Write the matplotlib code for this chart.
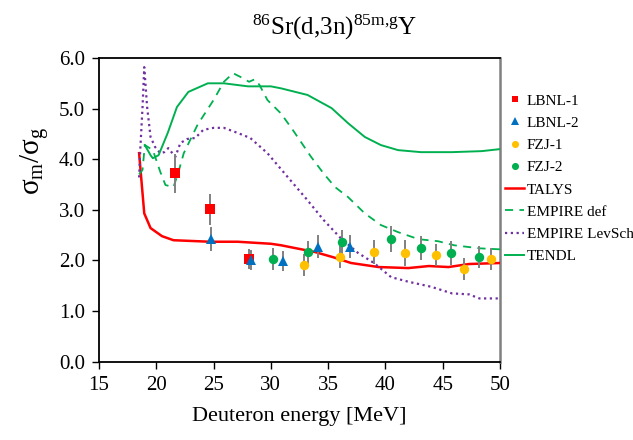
import matplotlib
matplotlib.use("Agg")
import matplotlib.pyplot as plt

plt.rcParams['font.family'] = ['Liberation Serif', 'DejaVu Serif']
plt.rcParams['mathtext.fontset'] = 'custom'
plt.rcParams['mathtext.rm'] = 'Liberation Serif'
plt.rcParams['mathtext.it'] = 'Liberation Serif:italic'

# Experimental data
lbnl1_x = [21.67, 24.65, 28.07]
lbnl1_y = [3.72, 3.01, 2.03]
lbnl1_e = [0.38, 0.30, 0.20]

lbnl2_x = [24.8, 28.25, 31.1, 34.1, 36.9]
lbnl2_y = [2.42, 2.01, 1.99, 2.27, 2.27]
lbnl2_e = [0.24, 0.20, 0.20, 0.23, 0.23]

fzj1_x = [32.9, 36.05, 39.0, 41.75, 44.4, 46.9, 49.2]
fzj1_y = [1.91, 2.07, 2.17, 2.15, 2.11, 1.83, 2.03]
fzj1_e = [0.22, 0.22, 0.24, 0.25, 0.22, 0.21, 0.22]

fzj2_x = [30.2, 33.2, 36.2, 40.5, 43.1, 45.7, 48.2]
fzj2_y = [2.03, 2.16, 2.36, 2.43, 2.25, 2.15, 2.07]
fzj2_e = [0.22, 0.23, 0.24, 0.26, 0.24, 0.23, 0.22]

# Model curves
talys_x = [18.5, 18.95, 19.5, 20.5, 21.5, 24.7, 27.1, 30.0, 30.9, 32.0, 33.8, 35.5,
           37.0, 39.4, 42.0, 43.8, 45.5, 47.3, 50.0]
talys_y = [4.12, 2.93, 2.64, 2.48, 2.40, 2.37, 2.37, 2.33, 2.30, 2.25, 2.17, 2.06,
           1.95, 1.87, 1.85, 1.89, 1.87, 1.93, 1.95]

empdef_x = [18.5, 18.8, 19.0, 19.7, 20.35, 20.8, 21.5, 21.9, 22.4, 23.6, 25.0, 25.9,
            26.7, 27.4, 28.1, 28.6, 29.0, 29.7, 30.9, 32.0, 33.5, 34.6, 35.6, 36.75,
            38.2, 39.6, 41.1, 42.9, 44.6, 46.0, 48.2, 50.0]
empdef_y = [3.70, 3.79, 4.28, 4.18, 3.75, 3.49, 3.45, 3.72, 4.12, 4.68, 5.17, 5.53,
            5.70, 5.62, 5.53, 5.58, 5.47, 5.17, 4.90, 4.55, 4.05, 3.72, 3.45, 3.25,
            2.93, 2.70, 2.56, 2.42, 2.38, 2.30, 2.24, 2.22]

levsch_x = [18.5, 18.6, 18.8, 18.95, 19.2, 19.5, 19.9, 20.35, 20.7, 21.05, 21.4, 21.67,
            22.1, 22.7, 23.4, 24.1, 25.0, 25.9, 27.1, 28.2, 29.7, 31.5, 33.2, 34.6,
            36.1, 37.6, 39.0, 40.5, 42.0, 44.0, 45.8, 47.3, 48.2, 50.0]
levsch_y = [3.64, 4.18, 5.03, 5.82, 5.03, 4.44, 4.24, 4.12, 4.14, 4.22, 4.12, 4.05,
            4.32, 4.40, 4.42, 4.58, 4.62, 4.62, 4.52, 4.42, 4.12, 3.64, 3.19, 2.80,
            2.44, 2.15, 1.95, 1.67, 1.58, 1.48, 1.35, 1.33, 1.25, 1.25]

tendl_x = [19.0, 19.5, 19.7, 20.2, 21.0, 21.8, 22.8, 24.5, 25.9, 28.0, 30.0, 30.9,
           33.2, 35.3, 36.75, 38.2, 39.6, 41.1, 43.1, 45.8, 48.4, 50.0]
tendl_y = [4.28, 4.08, 4.02, 4.08, 4.52, 5.03, 5.33, 5.50, 5.50, 5.44, 5.44, 5.40,
           5.27, 5.01, 4.71, 4.44, 4.28, 4.18, 4.14, 4.14, 4.16, 4.20]

x_ticks = [15, 20, 25, 30, 35, 40, 45, 50]
y_ticks = [0, 1, 2, 3, 4, 5, 6]

RED = '#FF0000'
BLUE = '#0070C0'
YELLOW = '#FFC000'
GREEN = '#00B050'
PURPLE = '#7030A0'
GRAY = '#808080'

fig = plt.figure(figsize=(6.33, 4.40), dpi=100)
ax = fig.add_axes([99/633, 1-361.7/440, (500-99)/633, (361.7-58)/440])

# model curves
l_talys, = ax.plot(talys_x, talys_y, color=RED, lw=1.8, label='TALYS', zorder=3)
l_emp, = ax.plot(empdef_x, empdef_y, color=GREEN, lw=1.3, ls=(0, (4.5, 3.5)), label='EMPIRE def', zorder=3)
l_lev, = ax.plot(levsch_x, levsch_y, color=PURPLE, lw=1.6, ls=(0, (1, 1.6)), label='EMPIRE LevSch', zorder=3)
l_tendl, = ax.plot(tendl_x, tendl_y, color=GREEN, lw=1.4, label='TENDL', zorder=3)

ms = 6.5
for xs, ys, es in [(lbnl1_x, lbnl1_y, lbnl1_e), (lbnl2_x, lbnl2_y, lbnl2_e),
                   (fzj1_x, fzj1_y, fzj1_e), (fzj2_x, fzj2_y, fzj2_e)]:
    ax.errorbar(xs, ys, yerr=es, fmt='none', ecolor=GRAY, elinewidth=1.4, capsize=0, zorder=4)
p1, = ax.plot(lbnl1_x, lbnl1_y, 's', color=RED, ms=ms, mew=0, label='LBNL-1', zorder=5)
p2, = ax.plot(lbnl2_x, lbnl2_y, '^', color=BLUE, ms=ms+0.5, mew=0, label='LBNL-2', zorder=5)
p3, = ax.plot(fzj1_x, fzj1_y, 'o', color=YELLOW, ms=ms+0.3, mew=0, label='FZJ-1', zorder=5)
p4, = ax.plot(fzj2_x, fzj2_y, 'o', color=GREEN, ms=ms+0.3, mew=0, label='FZJ-2', zorder=5)

ax.set_xlim(15, 50)
ax.set_ylim(0, 6)
ax.set_xticks(x_ticks)
ax.set_xticklabels([str(v) for v in x_ticks])
ax.set_yticks(y_ticks)
ax.set_yticklabels(['%.1f' % v for v in y_ticks])
ax.tick_params(direction='out', length=5, width=1, labelsize=15, pad=5)

for s in ['left', 'bottom', 'top']:
    ax.spines[s].set_color('black')
    ax.spines[s].set_linewidth(1.3)
ax.spines['right'].set_color('#808080')
ax.spines['right'].set_linewidth(1.8)

ax.set_xlabel('Deuteron energy [MeV]', fontsize=16, labelpad=9)
ax.set_ylabel(r'$\mathregular{\sigma_m/\sigma_g}$', fontsize=21)
ax.yaxis.set_label_coords(-0.12, 0.66)

fig.text(335/633, 1-27/440, r'$\mathregular{^{86}Sr(d{,}3n)^{85m{,}g}Y}$', fontsize=18,
         ha='center', va='center')

leg = ax.legend(handles=[p1, p2, p3, p4, l_talys, l_emp, l_lev, l_tendl],
                loc='upper left', bbox_to_anchor=(1.0, 0.897), frameon=False,
                fontsize=11, handlelength=1.3, handletextpad=0.15, labelspacing=0.56,
                borderaxespad=0.0, borderpad=0.3, markerscale=0.75)

fig.savefig('out.png', dpi=100)
